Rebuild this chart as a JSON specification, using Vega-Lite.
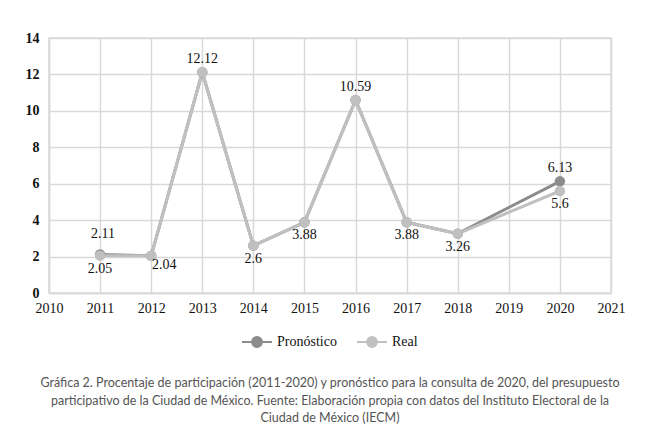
{
  "$schema": "https://vega.github.io/schema/vega-lite/v6.json",
  "width": 562,
  "height": 255,
  "autosize": {"type": "none"},
  "padding": {"left": 49, "top": 38, "right": 39, "bottom": 150},
  "background": "white",
  "config": {
    "view": {"stroke": "#d9d9d9", "strokeWidth": 1.5},
    "font": "Liberation Serif"
  },
  "title": {
    "text": [
      "Gráfica 2. Procentaje de participación (2011-2020) y pronóstico para la consulta de 2020, del presupuesto",
      "participativo de la Ciudad de México. Fuente: Elaboración propia con datos del Instituto Electoral de la",
      "Ciudad de México (IECM)"
    ],
    "orient": "bottom",
    "anchor": "middle",
    "font": "Lato",
    "fontSize": 12.5,
    "fontWeight": "normal",
    "color": "#555555",
    "lineHeight": 17.5,
    "offset": 26
  },
  "data": {
    "values": [
      {"year": 2011, "series": "Pronóstico", "value": 2.11},
      {"year": 2012, "series": "Pronóstico", "value": 2.04},
      {"year": 2013, "series": "Pronóstico", "value": 12.12},
      {"year": 2014, "series": "Pronóstico", "value": 2.6},
      {"year": 2015, "series": "Pronóstico", "value": 3.88},
      {"year": 2016, "series": "Pronóstico", "value": 10.59},
      {"year": 2017, "series": "Pronóstico", "value": 3.88},
      {"year": 2018, "series": "Pronóstico", "value": 3.26},
      {"year": 2020, "series": "Pronóstico", "value": 6.13},
      {"year": 2011, "series": "Real", "value": 2.05},
      {"year": 2012, "series": "Real", "value": 2.04},
      {"year": 2013, "series": "Real", "value": 12.12},
      {"year": 2014, "series": "Real", "value": 2.6},
      {"year": 2015, "series": "Real", "value": 3.88},
      {"year": 2016, "series": "Real", "value": 10.59},
      {"year": 2017, "series": "Real", "value": 3.88},
      {"year": 2018, "series": "Real", "value": 3.26},
      {"year": 2020, "series": "Real", "value": 5.6}
    ]
  },
  "encoding": {
    "x": {
      "field": "year",
      "type": "quantitative",
      "scale": {"domain": [2010, 2021], "nice": false, "zero": false},
      "axis": {
        "title": null,
        "values": [2010, 2011, 2012, 2013, 2014, 2015, 2016, 2017, 2018, 2019, 2020, 2021],
        "format": "d",
        "grid": true,
        "gridColor": "#d9d9d9",
        "gridWidth": 1.5,
        "domainColor": "#d9d9d9",
        "domainWidth": 1.5,
        "ticks": false,
        "labelFont": "Liberation Serif",
        "labelFontSize": 14,
        "labelFontWeight": "normal",
        "labelColor": "#111111",
        "labelPadding": 8,
        "labelFlush": false
      }
    },
    "y": {
      "field": "value",
      "type": "quantitative",
      "scale": {"domain": [0, 14], "nice": false},
      "axis": {
        "title": null,
        "values": [0, 2, 4, 6, 8, 10, 12, 14],
        "grid": true,
        "gridColor": "#d9d9d9",
        "gridWidth": 1.5,
        "domainColor": "#d9d9d9",
        "domainWidth": 1.5,
        "ticks": false,
        "labelFont": "Liberation Serif",
        "labelFontSize": 14,
        "labelFontWeight": "bold",
        "labelColor": "#111111",
        "labelPadding": 10
      }
    }
  },
  "layer": [
    {
      "mark": {"type": "line", "strokeWidth": 3},
      "encoding": {
        "color": {
          "field": "series",
          "type": "nominal",
          "scale": {"domain": ["Pronóstico", "Real"], "range": ["#8c8c8c", "#c0c0c0"]},
          "legend": {
            "title": null,
            "orient": "none",
            "legendX": 192,
            "legendY": 288,
            "direction": "horizontal",
            "labelFont": "Liberation Serif",
            "labelFontSize": 14,
            "labelColor": "#111111",
            "symbolType": "M-1,0L1,0M-0.33,0A0.33,0.33,0,1,1,0.33,0A0.33,0.33,0,1,1,-0.33,0Z",
            "symbolSize": 900,
            "symbolStrokeWidth": 2,
            "columnPadding": 16,
            "labelOffset": 4,
            "encode": {
              "symbols": {
                "update": {
                  "fill": {"scale": "color", "field": "value"},
                  "stroke": {"scale": "color", "field": "value"},
                  "opacity": {"value": 1}
                }
              }
            }
          }
        }
      }
    },
    {
      "mark": {"type": "circle", "size": 110, "opacity": 1},
      "encoding": {
        "color": {"field": "series", "type": "nominal", "legend": null}
      }
    },
    {
      "transform": [
        {"filter": "(datum.series === 'Real' && (datum.year === 2013 || datum.year === 2016)) || (datum.series === 'Pronóstico' && datum.year === 2020)"}
      ],
      "mark": {"type": "text", "dy": -13, "fontSize": 14, "font": "Liberation Serif", "color": "#111111"},
      "encoding": {"text": {"field": "value", "type": "quantitative"}}
    },
    {
      "transform": [
        {"filter": "datum.series === 'Pronóstico' && datum.year === 2011"}
      ],
      "mark": {"type": "text", "dy": -21, "dx": 3, "fontSize": 14, "font": "Liberation Serif", "color": "#111111"},
      "encoding": {"text": {"field": "value", "type": "quantitative"}}
    },
    {
      "transform": [
        {"filter": "datum.series === 'Real' && datum.year !== 2013 && datum.year !== 2016 && datum.year !== 2012"}
      ],
      "mark": {"type": "text", "dy": 13, "fontSize": 14, "font": "Liberation Serif", "color": "#111111"},
      "encoding": {"text": {"field": "value", "type": "quantitative"}}
    },
    {
      "transform": [
        {"filter": "datum.series === 'Real' && datum.year === 2012"}
      ],
      "mark": {"type": "text", "dy": 9, "dx": 13, "fontSize": 14, "font": "Liberation Serif", "color": "#111111"},
      "encoding": {"text": {"field": "value", "type": "quantitative"}}
    }
  ]
}
